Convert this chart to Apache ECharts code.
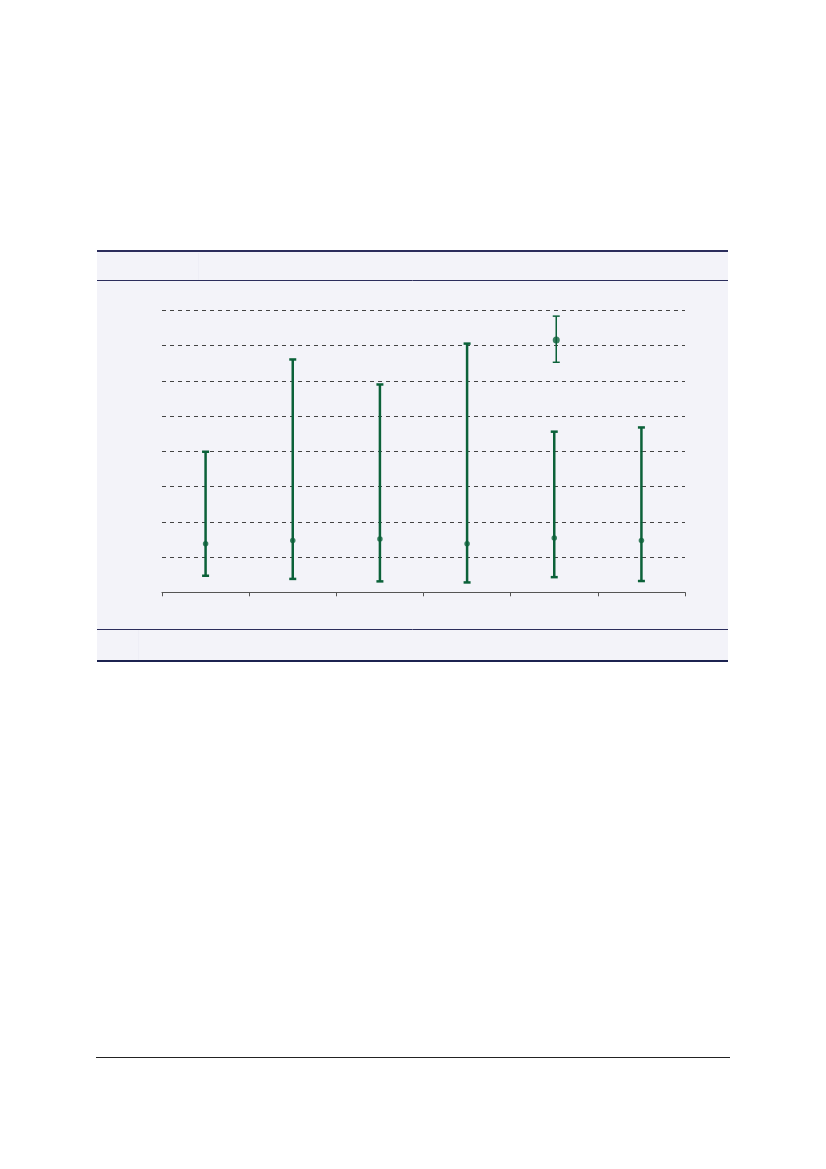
<!DOCTYPE html>
<html><head><meta charset="utf-8">
<script src="https://cdn.jsdelivr.net/npm/echarts@6/dist/echarts.min.js"></script>
<style>html,body{margin:0;padding:0;background:#fff;}#c{width:826px;height:1169px;}</style>
</head><body><div id="c"></div>
<script>
const categories = ['1','2','3','4','5','6'];
const pointValues = [1.38, 1.47, 1.51, 1.38, 1.54, 1.47];
const lowValues   = [0.47, 0.38, 0.31, 0.28, 0.43, 0.32];
const highValues  = [3.99, 6.61, 5.90, 7.06, 4.56, 4.68];
// second estimate shown for category 5
const extraCategory = ['5'];
const extraPoint = [7.16];
const extraLow = [6.53];
const extraHigh = [7.84];

const green = '#0b6139';
const navy = '#2b2d5c';

const mainBars = categories.map((c, i) => [c, lowValues[i], highValues[i]]);
const extraBars = extraCategory.map((c, i) => [c, extraLow[i], extraHigh[i]]);

function errRender(lineW, capHalf, dx) {
  return function (params, api) {
    const lo = api.coord([api.value(0), api.value(1)]);
    const hi = api.coord([api.value(0), api.value(2)]);
    const x = lo[0] + dx;
    const st = { stroke: green, lineWidth: lineW };
    return {
      type: 'group',
      children: [
        { type: 'line', shape: { x1: x, y1: lo[1], x2: x, y2: hi[1] }, style: st },
        { type: 'line', shape: { x1: x - capHalf, y1: lo[1], x2: x + capHalf, y2: lo[1] }, style: st },
        { type: 'line', shape: { x1: x - capHalf, y1: hi[1], x2: x + capHalf, y2: hi[1] }, style: st }
      ]
    };
  };
}

const chart = echarts.init(document.getElementById('c'), null, { renderer: 'canvas' });
chart.setOption({
  backgroundColor: '#ffffff',
  animation: false,
  graphic: [
    { type: 'rect', shape: { x: 97, y: 251, width: 631, height: 410 }, style: { fill: '#f3f3f9' }, z: -10 },
    { type: 'line', shape: { x1: 97, y1: 251, x2: 728, y2: 251 }, style: { stroke: navy, lineWidth: 2 } },
    { type: 'line', shape: { x1: 198.5, y1: 253, x2: 198.5, y2: 280 }, style: { stroke: '#eeeef6', lineWidth: 1 } },
    { type: 'line', shape: { x1: 97, y1: 280.5, x2: 728, y2: 280.5 }, style: { stroke: navy, lineWidth: 1 } },
    { type: 'line', shape: { x1: 97, y1: 629.5, x2: 728, y2: 629.5 }, style: { stroke: navy, lineWidth: 1 } },
    { type: 'line', shape: { x1: 138.5, y1: 630, x2: 138.5, y2: 660 }, style: { stroke: '#eeeef6', lineWidth: 1 } },
    { type: 'line', shape: { x1: 97, y1: 661, x2: 728, y2: 661 }, style: { stroke: '#1c2350', lineWidth: 2 } },
    { type: 'line', shape: { x1: 96, y1: 1057.5, x2: 730, y2: 1057.5 }, style: { stroke: '#222222', lineWidth: 1 } }
  ],
  grid: { left: 162, right: 141, top: 310.5, bottom: 576.7 },
  xAxis: {
    type: 'category',
    data: categories,
    boundaryGap: true,
    axisLine: { show: true, lineStyle: { color: '#555555', width: 1 } },
    axisTick: { show: true, length: 4, lineStyle: { color: '#555555' } },
    axisLabel: { show: false },
    splitLine: { show: false }
  },
  yAxis: {
    type: 'value',
    min: 0, max: 8, interval: 1,
    axisLine: { show: false },
    axisTick: { show: false },
    axisLabel: { show: false },
    splitLine: { show: true, lineStyle: { color: '#444444', type: [4, 4], width: 1 } }
  },
  series: [
    { type: 'custom', data: mainBars, renderItem: errRender(2.5, 3.5, 0), z: 3 },
    { type: 'scatter', data: categories.map((c, i) => [c, pointValues[i]]), symbol: 'circle', symbolSize: 5.5,
      itemStyle: { color: green }, z: 4 },
    { type: 'custom', data: extraBars, renderItem: errRender(1.5, 3.5, 2), z: 3 },
    { type: 'scatter', data: extraCategory.map((c, i) => [c, extraPoint[i]]), symbol: 'circle', symbolSize: 7,
      symbolOffset: [2, 0], itemStyle: { color: green }, z: 4 }
  ]
});
</script>
</body></html>
